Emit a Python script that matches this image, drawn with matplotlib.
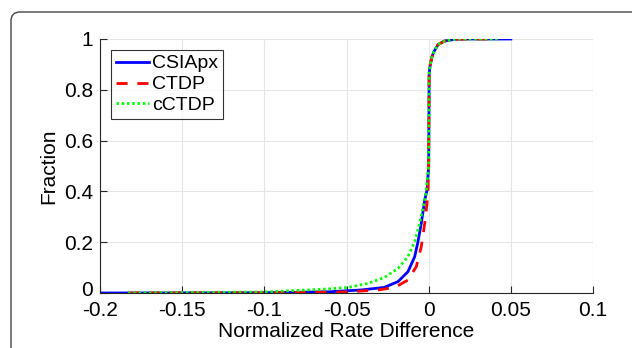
import matplotlib
matplotlib.use("Agg")
import matplotlib.pyplot as plt
import matplotlib.transforms as mtransforms
from matplotlib.patches import FancyBboxPatch

plt.rcParams['font.family'] = ['Liberation Sans', 'DejaVu Sans']
plt.rcParams['axes.unicode_minus'] = False

# CSIApx
x_csi = [-0.2, -0.1, -0.06, -0.041, -0.027, -0.0186, -0.0126, -0.0085, -0.0065,
         -0.0045, -0.0024, -0.001, 0.0, 0.0003, 0.001, 0.002, 0.0032, 0.0057,
         0.0097, 0.016, 0.025, 0.05]
y_csi = [0.0, 0.001, 0.005, 0.012, 0.022, 0.045, 0.084, 0.143, 0.202,
         0.274, 0.366, 0.405, 0.5, 0.865, 0.9, 0.93, 0.95, 0.978,
         0.992, 0.999, 1.0, 1.0]
# CTDP
x_ctdp = [-0.183, -0.1, -0.05, -0.0308, -0.0206, -0.0126, -0.0075, -0.0045,
          -0.0024, -0.001, -0.0004, 0.0, 0.0003, 0.001, 0.002, 0.0032, 0.0057,
          0.0097, 0.016, 0.025, 0.042]
y_ctdp = [0.0, 0.001, 0.004, 0.012, 0.022, 0.051, 0.104, 0.182,
          0.274, 0.353, 0.405, 0.5, 0.865, 0.9, 0.93, 0.95, 0.978,
          0.992, 0.999, 1.0, 1.0]
# cCTDP
x_cctdp = [-0.183, -0.1, -0.061, -0.049, -0.0368, -0.0267, -0.0186, -0.0126,
           -0.0085, -0.0055, -0.0024, -0.0015, 0.0, 0.0003, 0.001, 0.002, 0.0032,
           0.0057, 0.0097, 0.016, 0.025, 0.042]
y_cctdp = [0.0, 0.004, 0.016, 0.022, 0.038, 0.062, 0.097, 0.143,
           0.202, 0.274, 0.366, 0.405, 0.5, 0.865, 0.9, 0.93, 0.95,
           0.978, 0.992, 0.999, 1.0, 1.0]

xticks = [-0.2, -0.15, -0.1, -0.05, 0, 0.05, 0.1]
xticklabels = ['-0.2', '-0.15', '-0.1', '-0.05', '0', '0.05', '0.1']
yticks = [0, 0.2, 0.4, 0.6, 0.8, 1]
yticklabels = ['0', '0.2', '0.4', '0.6', '0.8', '1']

fig = plt.figure(figsize=(6.32, 3.48), dpi=100)
ax = fig.add_axes([100/632, 55/348, 493/632, 254/348])

# journal frame
frame = FancyBboxPatch((0.11, -1.0), 8.0, 3.36 + 1.0,
                       boxstyle="round,pad=0,rounding_size=0.09",
                       transform=fig.dpi_scale_trans, fill=False,
                       edgecolor='#444444', linewidth=1.0, clip_on=False)
fig.patches.append(frame)

ax.plot(x_csi, y_csi, color=(0, 0, 1), lw=2.0, label='CSIApx')
ax.plot(x_ctdp, y_ctdp, color=(1, 0, 0), lw=2.0, ls=(0, (4, 3.5)), label='CTDP')
ax.plot(x_cctdp, y_cctdp, color=(0, 1, 0), lw=2.0, ls=(0, (0.9, 1.0)), label='cCTDP')

ax.set_xlim(-0.2, 0.1)
ax.set_ylim(0, 1)
ax.set_xticks(xticks)
ax.set_xticklabels(xticklabels)
ax.set_yticks(yticks)
ax.set_yticklabels(yticklabels)
ax.grid(True, color='#e5e5e5', lw=0.8)
ax.set_axisbelow(True)
for s in ['top', 'right']:
    ax.spines[s].set_visible(False)
for s in ['left', 'bottom']:
    ax.spines[s].set_color('#262626')
    ax.spines[s].set_linewidth(0.8)
ax.tick_params(direction='in', length=5, width=0.8, color='#262626',
               labelsize=15, labelcolor='black', pad=5)
ax.tick_params(axis='x', pad=6)
ax.set_xlabel('Normalized Rate Difference', fontsize=15, labelpad=1)
ax.set_ylabel('Fraction', fontsize=15, labelpad=4)

# nudge the "0" y label slightly up so it doesn't collide with "-0.2"
lab0 = ax.get_yticklabels()[0]
lab0.set_transform(lab0.get_transform() +
                   mtransforms.ScaledTranslation(0, 3/72, fig.dpi_scale_trans))

leg = ax.legend(loc='upper left', bbox_to_anchor=(11/493, 1 - 11/254),
                fontsize=14, frameon=True, fancybox=False, edgecolor='black',
                handlelength=1.7, handletextpad=0.15, borderpad=0.25,
                labelspacing=0.17, borderaxespad=0)
leg.get_frame().set_linewidth(0.8)

fig.savefig('out.png', dpi=100)
